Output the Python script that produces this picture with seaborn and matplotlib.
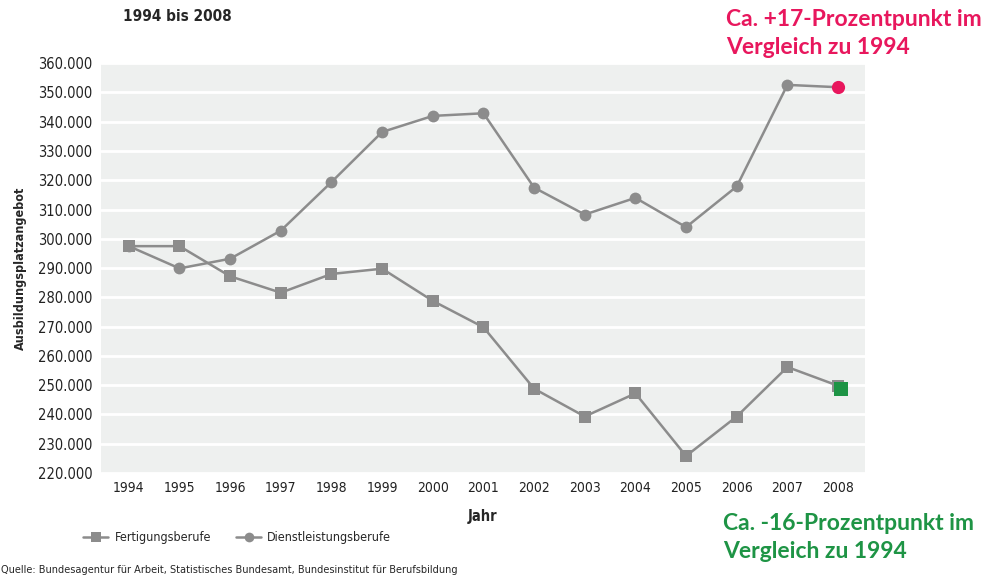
import matplotlib
matplotlib.use("Agg")
import matplotlib.pyplot as plt
import matplotlib.transforms as mtransforms
from matplotlib.ticker import FuncFormatter, MultipleLocator
from matplotlib.lines import Line2D
import seaborn as sns
import pandas as pd

# Data
years = list(range(1994, 2009))
fertigung = [297.5, 297.5, 287.2, 281.6, 288.0, 289.8, 278.8, 269.8,
             248.8, 239.3, 247.2, 225.8, 239.3, 256.2, 249.8]
dienstleistung = [297.5, 289.9, 293.2, 302.8, 319.4, 336.5, 342.0, 342.9,
                  317.5, 308.3, 314.0, 304.0, 317.9, 352.6, 351.8]
series_names = ["Fertigungsberufe", "Dienstleistungsberufe"]

GREY = "#8c8c8c"
PINK = "#e8175d"
GREEN = "#1e9445"
BASE = ["DejaVu Sans"]
CALI = ["Lato", "DejaVu Sans"]

df = pd.DataFrame({
    "Jahr": years * 2,
    "wert": [v * 1000 for v in fertigung + dienstleistung],
    "reihe": [series_names[0]] * len(years) + [series_names[1]] * len(years),
})

sns.set_style("white")
plt.rcParams["font.family"] = BASE
plt.rcParams["font.stretch"] = "condensed"

fig = plt.figure(figsize=(9.87, 5.8), dpi=100)
ax = fig.add_axes([0.1023, 0.1845, 0.774, 0.7065])
ax.set_facecolor("#eef0ef")

sns.lineplot(data=df, x="Jahr", y="wert", hue="reihe", style="reihe",
             markers={series_names[0]: "s", series_names[1]: "o"},
             dashes=False, palette=[GREY, GREY], markersize=8.5,
             markeredgewidth=0, linewidth=1.8, ax=ax, legend=False)

# highlighted end points
ax.plot(years[-1], dienstleistung[-1] * 1000, "o", color=PINK, markersize=9.5,
        markeredgewidth=0, zorder=5)
shift = mtransforms.offset_copy(ax.transData, fig=fig, x=3, y=-3, units="dots")
ax.plot(years[-1], fertigung[-1] * 1000, "s", color=GREEN, markersize=10,
        markeredgewidth=0, zorder=5, transform=shift)

ax.set_xlim(1993.45, 2008.53)
ax.set_ylim(220000, 360000)
ax.yaxis.set_major_locator(MultipleLocator(10000))
ax.set_xticks(years)
ax.yaxis.set_major_formatter(FuncFormatter(lambda v, p: f"{int(v):,}".replace(",", ".")))
ax.grid(axis="y", color="white", linewidth=2)
ax.set_axisbelow(True)
for s in ax.spines.values():
    s.set_visible(False)
ax.tick_params(axis="y", length=0, labelsize=10.5, colors="#222222", pad=6)
ax.tick_params(axis="x", length=0, labelsize=10, colors="#222222", pad=6)

ax.set_xlabel("Jahr", fontsize=10.5, fontweight="bold", labelpad=10)
ax.set_ylabel("Ausbildungsplatzangebot", fontsize=9, fontweight="bold", labelpad=8)

# legend
handles = [Line2D([], [], color=GREY, marker="s", markersize=7, markeredgewidth=0, linewidth=1.8),
           Line2D([], [], color=GREY, marker="o", markersize=7, markeredgewidth=0, linewidth=1.8)]
fig.legend(handles, series_names, loc="center left", bbox_to_anchor=(0.073, 0.073),
           ncol=2, frameon=False, fontsize=9, handlelength=2.0, columnspacing=2.0,
           handletextpad=0.5)

fig.text(0.125, 0.985, "1994 bis 2008", fontsize=11, fontweight="bold", va="top")
fig.text(0.001, 0.008, "Quelle: Bundesagentur für Arbeit, Statistisches Bundesamt, "
         "Bundesinstitut für Berufsbildung", fontsize=7.8, va="bottom")

fig.text(0.736, 0.985, "Ca. +17-Prozentpunkt im\nVergleich zu 1994", color=PINK,
         fontsize=16.5, fontweight="bold", va="top", linespacing=1.45, family=CALI,
         stretch="normal")
fig.text(0.733, 0.116, "Ca. -16-Prozentpunkt im\nVergleich zu 1994", color=GREEN,
         fontsize=16.5, fontweight="bold", va="top", linespacing=1.45, family=CALI,
         stretch="normal")

fig.savefig("out.png", dpi=100)
